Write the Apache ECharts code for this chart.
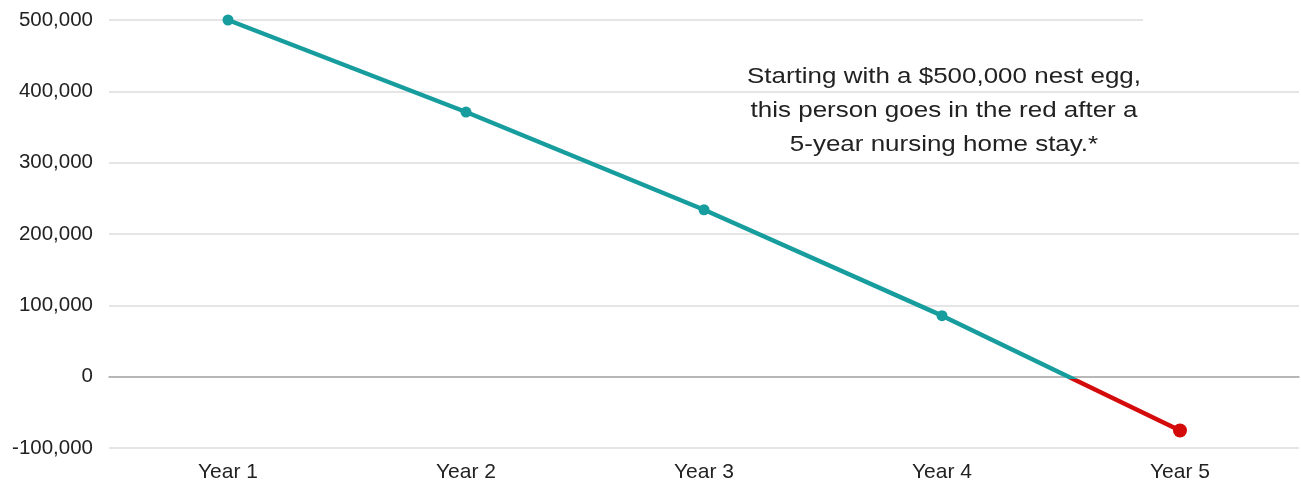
<!DOCTYPE html>
<html>
<head>
<meta charset="utf-8">
<script src="https://cdn.jsdelivr.net/npm/echarts@6/dist/echarts.min.js"></script>
<style>html,body{margin:0;padding:0;background:#fff;}#c{width:1301px;height:483px;}</style>
</head>
<body>
<div id="c"></div>
<script>
const categories = ['Year 1', 'Year 2', 'Year 3', 'Year 4', 'Year 5'];
const balances = [500000, 371000, 234000, 85500, -75500];
const yTicks = { min: -100000, max: 500000, interval: 100000 };
const note = 'Starting with a $500,000 nest egg,\nthis person goes in the red after a\n5-year nursing home stay.*';

const TEAL = '#179d9d';
const RED = '#d40b0b';
const FONT = '"Liberation Sans", Arial, sans-serif';

// hard colour switch where the line crosses zero (fraction of the line's vertical extent)
const hi = Math.max(...balances), lo = Math.min(...balances);
const zeroAt = hi / (hi - lo);

const chart = echarts.init(document.getElementById('c'));
chart.setOption({
  animation: false,
  backgroundColor: '#ffffff',
  grid: { left: 109, right: 2, top: 20, bottom: 35, containLabel: false },
  xAxis: {
    type: 'category',
    data: categories,
    boundaryGap: true,
    axisLine: { onZero: true, lineStyle: { color: '#a8a8a8', width: 1.5 } },
    axisTick: { show: false },
    axisLabel: { color: '#222', fontSize: 21, fontFamily: FONT, margin: 14 },
    splitLine: { show: false }
  },
  yAxis: {
    type: 'value',
    min: yTicks.min,
    max: yTicks.max,
    interval: yTicks.interval,
    axisLine: { show: false },
    axisTick: { show: false },
    axisLabel: {
      color: '#222', fontSize: 20.5, fontFamily: FONT, margin: 16,
      formatter: v => v.toLocaleString('en-US')
    },
    splitLine: { lineStyle: { color: '#dcdcdc', width: 1.5 } }
  },
  series: [{
    type: 'line',
    data: balances.map((v, i) => ({
      value: v,
      symbolSize: v < 0 ? 14 : 11,
      itemStyle: { color: v < 0 ? RED : TEAL }
    })),
    symbol: 'circle',
    lineStyle: {
      width: 4.5,
      color: {
        type: 'linear', x: 0, y: 0, x2: 0, y2: 1,
        colorStops: [
          { offset: 0, color: TEAL },
          { offset: zeroAt, color: TEAL },
          { offset: zeroAt, color: RED },
          { offset: 1, color: RED }
        ]
      }
    },
    z: 5
  }],
  graphic: [
    { type: 'rect', left: 1143, top: 17, shape: { width: 160, height: 6 }, style: { fill: '#ffffff' }, z: 1 },
    {
      type: 'text', x: 944, y: 60, scaleX: 1.18, originX: 0, originY: 0,
      style: {
        text: note, fill: '#222', font: '22px ' + FONT,
        textAlign: 'center', textVerticalAlign: 'top', lineHeight: 34
      }
    }
  ]
});
</script>
</body>
</html>
